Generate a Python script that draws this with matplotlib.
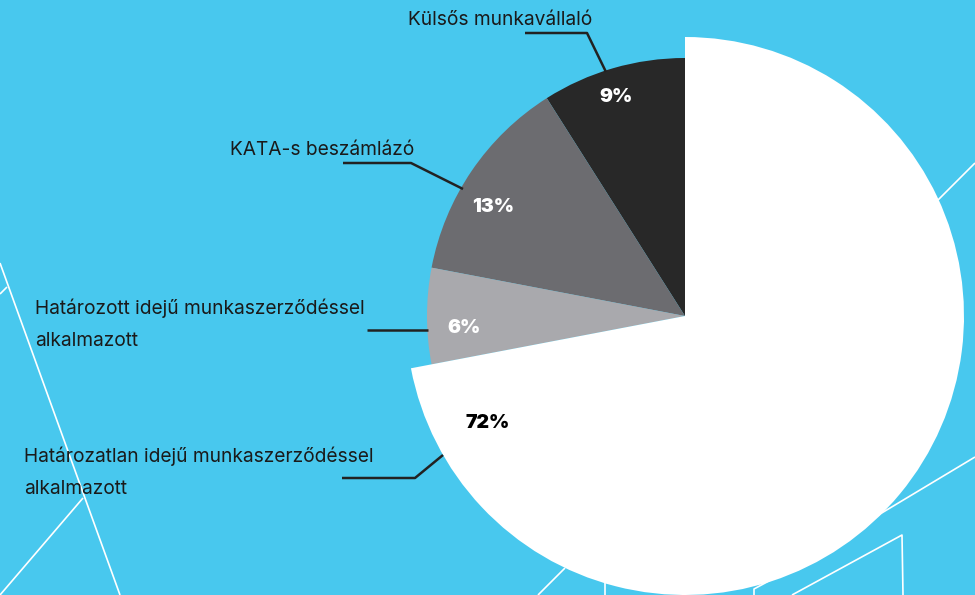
import matplotlib
matplotlib.use("Agg")
import matplotlib.pyplot as plt

# ---- data ----
categories = ["Külsős munkavállaló", "KATA-s beszámlázó",
              "Határozott idejű munkaszerződéssel\nalkalmazott",
              "Határozatlan idejű munkaszerződéssel\nalkalmazott"]
shares = [9, 13, 6, 72]
pct_labels = ["9%", "13%", "6%", "72%"]

# ---- style ----
BG = "#48C8EE"
slice_colors = ["#282828", "#6C6C70", "#A9A9AD", "#FFFFFF"]
pct_colors = ["white", "white", "white", "black"]
TXT = "#1A1A1A"
W, H = 975, 595

fig = plt.figure(figsize=(W / 100, H / 100), dpi=100, facecolor=BG)
ax = fig.add_axes([0, 0, 1, 1])
ax.set_facecolor(BG)

# decorative background lines (pixel coords)
deco = [
    [(0, 263), (120, 595)],
    [(7, 287), (0, 294)],
    [(83, 498), (0, 595)],
    [(565, 568), (538, 595)],
    [(605, 575), (605, 595)],
    [(780, 575), (754, 589), (754, 595)],
    [(792, 595), (902, 535), (903, 595)],
    [(850, 532), (975, 457)],
    [(938, 200), (975, 163)],
]
for seg in deco:
    xs, ys = zip(*seg)
    ax.plot(xs, ys, color="white", lw=1.2, zorder=1, solid_capstyle="butt")

cx, cy, r = 685, 316, 258
wedges, _, autotexts = ax.pie(
    shares, colors=slice_colors, startangle=-90, counterclock=False,
    radius=r, center=(cx, cy), autopct="%d%%", pctdistance=0.86,
    wedgeprops=dict(linewidth=0, zorder=2), frame=True,
)
wedges[3].set_radius(279)
for w in wedges:
    w.set_zorder(2)
pct_pos = [(616, 97), (493, 207), (464, 328), (488, 423)]
for t, lab, c, p in zip(autotexts, pct_labels, pct_colors, pct_pos):
    t.set_text(lab)
    t.set_color(c)
    t.set_fontsize(14)
    t.set_fontweight(900)
    t.set_family("Inter")
    t.set_zorder(5)
    t.set_position(p)

ax.set_xlim(0, W)
ax.set_ylim(H, 0)
ax.set_aspect("equal")
ax.axis("off")

# leader lines + labels
leaders = [
    [(525, 33), (587, 33), (606, 72)],
    [(343, 163), (411, 163), (463, 189)],
    [(367, 330), (428, 330)],
    [(342, 478), (415, 478), (443, 455)],
]
for seg in leaders:
    xs, ys = zip(*seg)
    ax.plot(xs, ys, color="#222222", lw=1.8, zorder=4, solid_capstyle="butt")

FS = 13.8
label_pos = [(408, 20), (230, 150), (35, 310), (24, 458)]
for (x, y), txt in zip(label_pos, categories):
    if "\n" in txt:
        ax.text(x, y - 11, txt, ha="left", va="top", fontsize=FS, color=TXT,
                family="Inter", linespacing=2.0, zorder=5)
    else:
        ax.text(x, y, txt, ha="left", va="center", fontsize=FS, color=TXT,
                family="Inter", zorder=5)

fig.savefig("out.png", dpi=100, facecolor=BG)
